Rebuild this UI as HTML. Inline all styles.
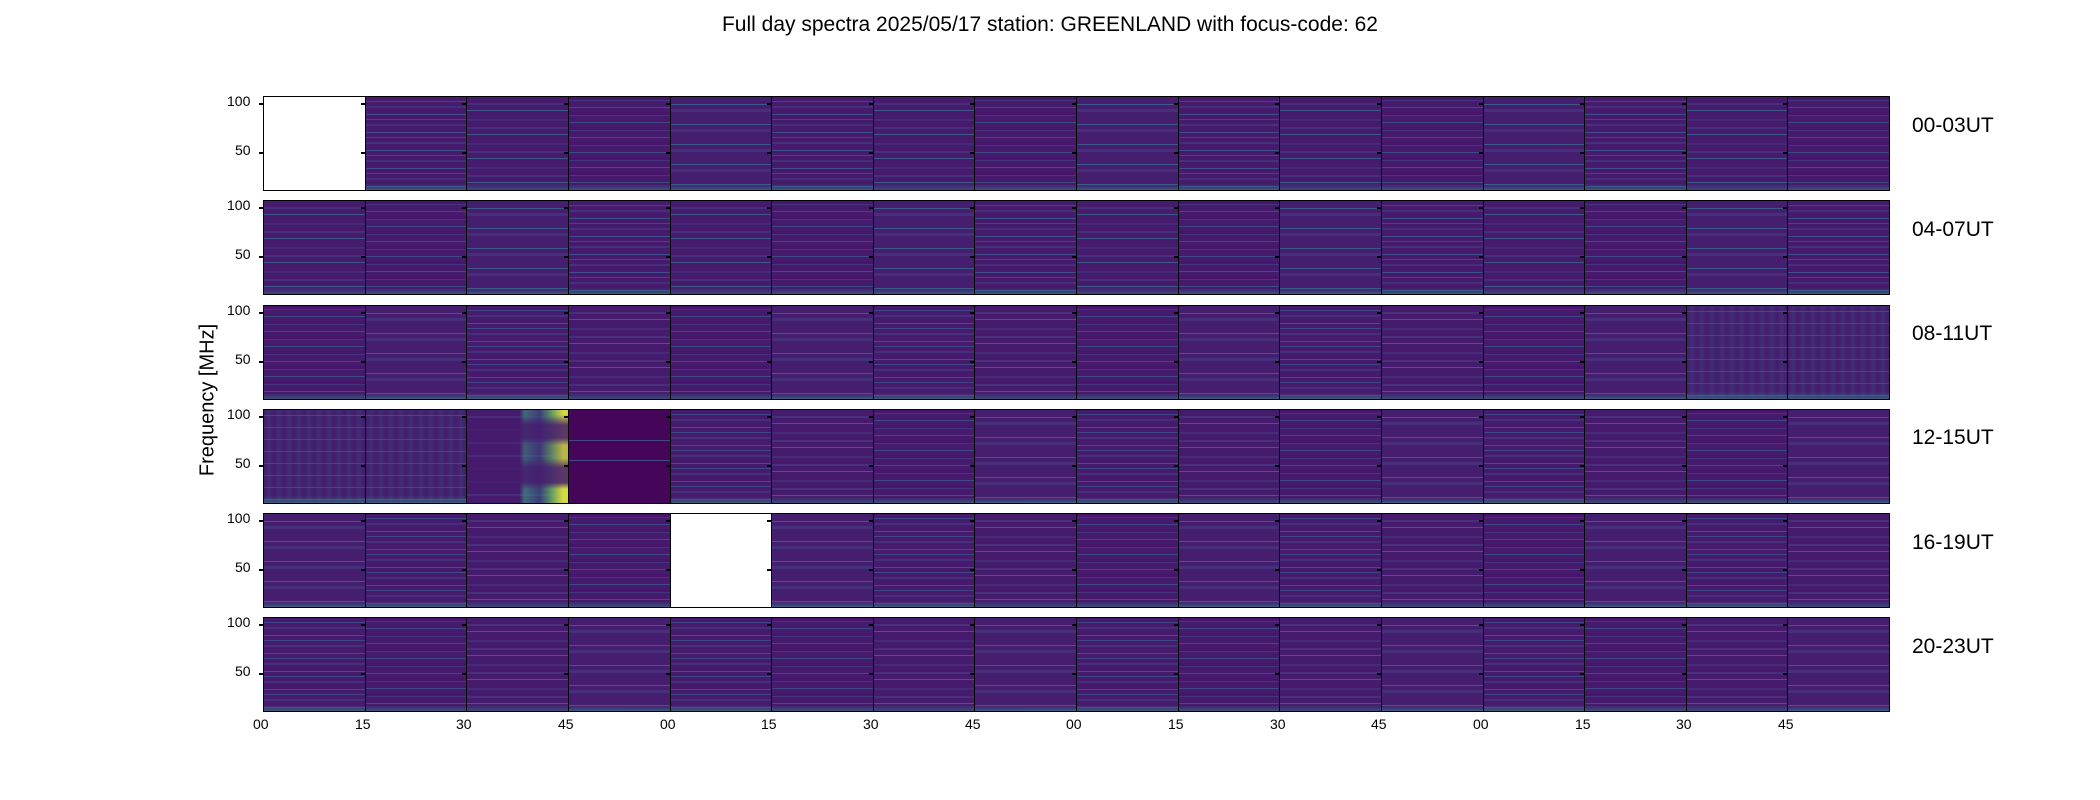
<!DOCTYPE html>
<html><head><meta charset="utf-8"><style>
body{margin:0;width:2100px;height:800px;background:#fff;position:relative;overflow:hidden;font-family:"Liberation Sans",sans-serif;color:#000}
.t{position:absolute;white-space:nowrap}
.row{position:absolute;left:263px;width:1627px;height:95px;display:flex;border:1.5px solid #000;box-sizing:border-box}
.row i{display:block;flex:1;height:100%;border-left:1.5px solid #000;position:relative}
.row i:first-child{border-left:none}
.row i::before,.row i::after{content:"";position:absolute;left:-5px;width:5px;height:1.5px;background:#000}
.row i::before{top:6px}.row i::after{top:55px}
.a{background:linear-gradient(0deg,rgba(40,150,140,.55) 0,rgba(40,150,140,.15) 4%,transparent 7%),repeating-linear-gradient(180deg,#461b6e 0 4px,#40468a 4px 5px,#461b6e 5px 9px,#46307c 9px 11px,#461b6e 11px 17px,#3e5089 17px 18px)}
.b{background:linear-gradient(0deg,rgba(40,150,140,.4) 0,rgba(40,150,140,.1) 5%,transparent 8%),repeating-linear-gradient(180deg,#461b6e 0 6px,#46307c 6px 8px,#461b6e 8px 13px,#3d5a8b 13px 14px,#461b6e 14px 22px,#432d7b 22px 24px)}
.c{background:linear-gradient(0deg,rgba(40,150,140,.5) 0,transparent 6%),repeating-linear-gradient(180deg,#47156b 0 3px,#44357f 3px 4px,#461b6e 4px 10px,#404a86 10px 11px,#461b6e 11px 15px)}
.d{background:linear-gradient(0deg,rgba(40,150,140,.45) 0,transparent 6%),repeating-linear-gradient(180deg,#461e70 0 7px,#3d5a8b 7px 8px,#461e70 8px 12px,#46307c 12px 15px,#461e70 15px 20px)}
.w{background:#fff}
.k{background:repeating-linear-gradient(180deg,#450559 0 30px,#3f4a86 30px 31px,#450559 31px 50px,#3f4a86 50px 51px,#450559 51px 93px)}
.y{background:linear-gradient(180deg,rgba(70,27,110,0) 0,rgba(70,27,110,0) 5%,rgba(70,27,110,.85) 16%,rgba(70,27,110,.85) 30%,rgba(70,27,110,.2) 38%,rgba(70,27,110,.2) 52%,rgba(70,27,110,.85) 62%,rgba(70,27,110,.85) 78%,rgba(70,27,110,0) 85%),linear-gradient(90deg,transparent 52%,rgba(60,160,130,.6) 57%,rgba(40,120,140,.35) 72%,rgba(90,190,100,.7) 82%,rgba(220,228,60,.95) 95%),repeating-linear-gradient(180deg,#461b6e 0 6px,#46307c 6px 8px,#461b6e 8px 13px)}
.m{background:repeating-linear-gradient(90deg,transparent 0,rgba(40,110,140,.22) 5px,transparent 10px),linear-gradient(0deg,rgba(40,150,140,.5) 0,transparent 8%),repeating-linear-gradient(180deg,#461b6e 0 5px,#40468a 5px 6px,#461b6e 6px 12px)}
</style></head><body>
<div class="t" style="left:0;width:2100px;top:13px;text-align:center;font-size:21px">Full day spectra 2025/05/17 station: GREENLAND with focus-code: 62</div>
<div class="t" style="left:208px;top:400px;font-size:20px;transform:translate(-50%,-50%) rotate(-90deg)">Frequency [MHz]</div>
<div class="t" style="left:1912px;top:114px;font-size:21px">00-03UT</div>
<div class="t" style="left:1912px;top:218px;font-size:21px">04-07UT</div>
<div class="t" style="left:1912px;top:322px;font-size:21px">08-11UT</div>
<div class="t" style="left:1912px;top:426px;font-size:21px">12-15UT</div>
<div class="t" style="left:1912px;top:531px;font-size:21px">16-19UT</div>
<div class="t" style="left:1912px;top:635px;font-size:21px">20-23UT</div>

<div class="row" style="top:96px"><i class="w"></i><i class="a"></i><i class="b"></i><i class="c"></i><i class="d"></i><i class="a"></i><i class="b"></i><i class="c"></i><i class="d"></i><i class="a"></i><i class="b"></i><i class="c"></i><i class="d"></i><i class="a"></i><i class="b"></i><i class="c"></i></div>
<div class="row" style="top:200px"><i class="b"></i><i class="c"></i><i class="d"></i><i class="a"></i><i class="b"></i><i class="c"></i><i class="d"></i><i class="a"></i><i class="b"></i><i class="c"></i><i class="d"></i><i class="a"></i><i class="b"></i><i class="c"></i><i class="d"></i><i class="a"></i></div>
<div class="row" style="top:305px"><i class="c"></i><i class="d"></i><i class="a"></i><i class="b"></i><i class="c"></i><i class="d"></i><i class="a"></i><i class="b"></i><i class="c"></i><i class="d"></i><i class="a"></i><i class="b"></i><i class="c"></i><i class="d"></i><i class="m"></i><i class="m"></i></div>
<div class="row" style="top:409px"><i class="m"></i><i class="m"></i><i class="y"></i><i class="k"></i><i class="a"></i><i class="b"></i><i class="c"></i><i class="d"></i><i class="a"></i><i class="b"></i><i class="c"></i><i class="d"></i><i class="a"></i><i class="b"></i><i class="c"></i><i class="d"></i></div>
<div class="row" style="top:513px"><i class="d"></i><i class="a"></i><i class="b"></i><i class="c"></i><i class="w"></i><i class="d"></i><i class="a"></i><i class="b"></i><i class="c"></i><i class="d"></i><i class="a"></i><i class="b"></i><i class="c"></i><i class="d"></i><i class="a"></i><i class="b"></i></div>
<div class="row" style="top:617px"><i class="a"></i><i class="c"></i><i class="b"></i><i class="d"></i><i class="a"></i><i class="c"></i><i class="b"></i><i class="d"></i><i class="a"></i><i class="c"></i><i class="b"></i><i class="d"></i><i class="a"></i><i class="c"></i><i class="b"></i><i class="d"></i></div>

<div class="t" style="left:227px;top:93px;font-size:14px">100</div><div class="t" style="left:235px;top:142px;font-size:14px">50</div>
<div class="t" style="left:227px;top:197px;font-size:14px">100</div><div class="t" style="left:235px;top:246px;font-size:14px">50</div>
<div class="t" style="left:227px;top:302px;font-size:14px">100</div><div class="t" style="left:235px;top:351px;font-size:14px">50</div>
<div class="t" style="left:227px;top:406px;font-size:14px">100</div><div class="t" style="left:235px;top:455px;font-size:14px">50</div>
<div class="t" style="left:227px;top:510px;font-size:14px">100</div><div class="t" style="left:235px;top:559px;font-size:14px">50</div>
<div class="t" style="left:227px;top:614px;font-size:14px">100</div><div class="t" style="left:235px;top:663px;font-size:14px">50</div>
<div style="position:absolute;left:253px;top:716px;width:1650px;height:20px;font-size:14px">
<span class="t" style="left:0px">00</span><span class="t" style="left:102px">15</span><span class="t" style="left:203px">30</span><span class="t" style="left:305px">45</span>
<span class="t" style="left:407px">00</span><span class="t" style="left:508px">15</span><span class="t" style="left:610px">30</span><span class="t" style="left:712px">45</span>
<span class="t" style="left:813px">00</span><span class="t" style="left:915px">15</span><span class="t" style="left:1017px">30</span><span class="t" style="left:1118px">45</span>
<span class="t" style="left:1220px">00</span><span class="t" style="left:1322px">15</span><span class="t" style="left:1423px">30</span><span class="t" style="left:1525px">45</span>
</div>
</body></html>
